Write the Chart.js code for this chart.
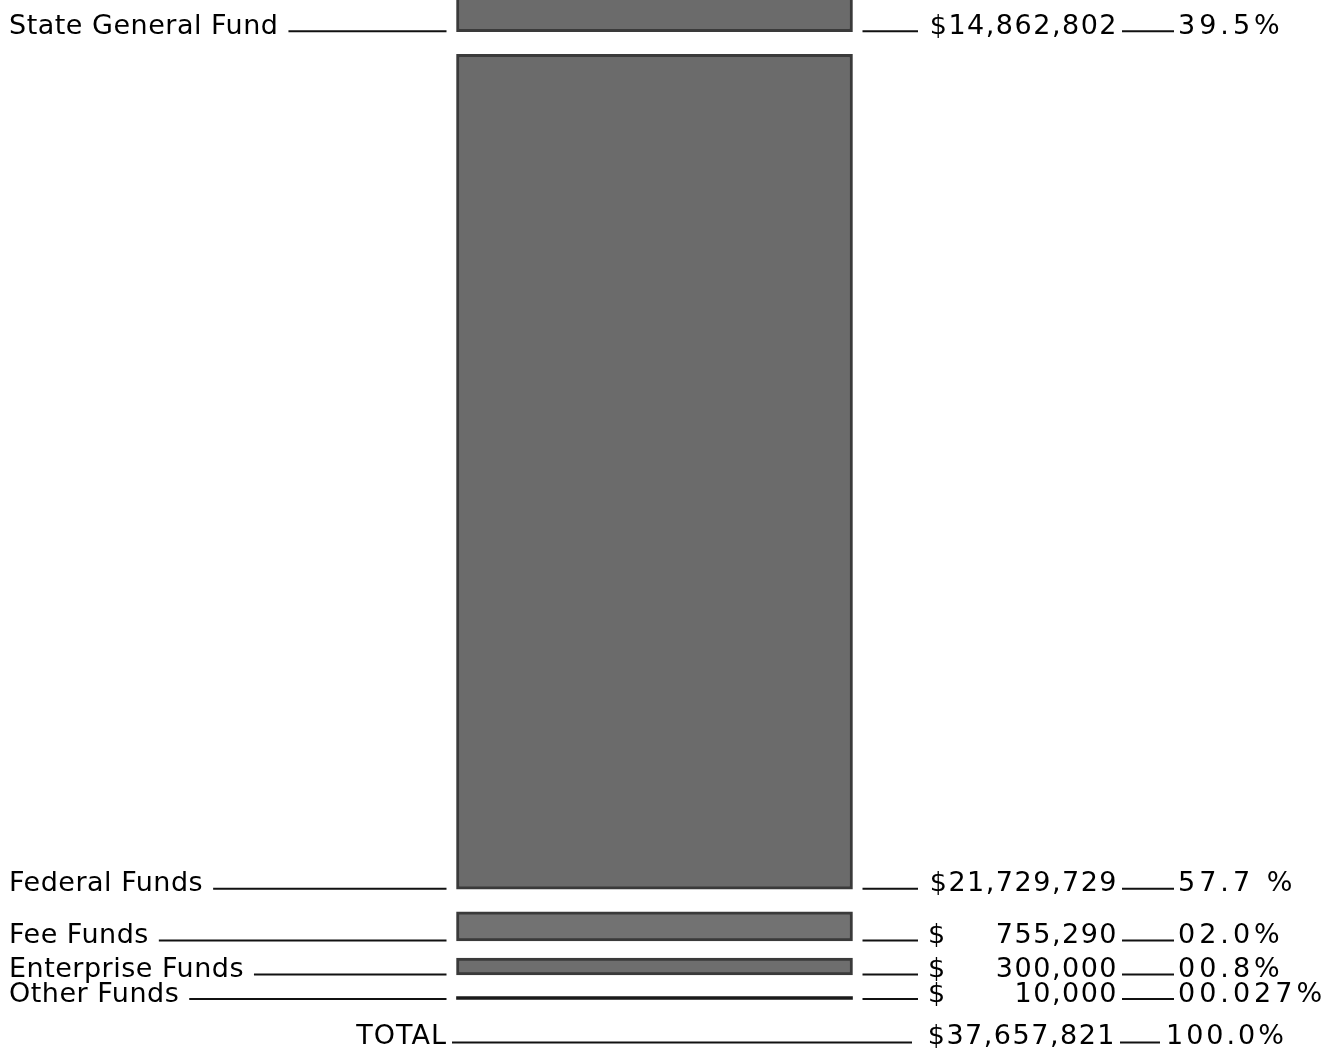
<!DOCTYPE html>
<html>
<head>
<meta charset="utf-8">
<script src="https://cdn.jsdelivr.net/npm/chart.js@4.4.0/dist/chart.umd.min.js"></script>
<style>
  html, body { margin: 0; padding: 0; background: #fff; }
  #wrap { width: 1341px; height: 1050px; }
</style>
</head>
<body>
<div id="wrap"><canvas id="chartFontes"></canvas></div>
<script>
// fund sources, top of the column first
const fundNames = ['State General Fund', 'Federal Funds', 'Fee Funds', 'Enterprise Funds', 'Other Funds']
const fundAmounts = [14862802, 21729729, 755290, 300000, 10000]
const fundPercents = ['39.5%', '57.7 %', '02.0%', '00.8%', '00.027%']
const totalLabel = 'TOTAL'
const totalPercent = '100.0%'

const gap = 588000 // white space between the pieces, in dollars
const fundTotal = fundAmounts.reduce((a, b) => a + b, 0)

// floating ranges, stacked from the bottom up
const ranges = []
let cursor = 0
for (let i = fundAmounts.length - 1; i >= 0; i--) {
    ranges[i] = [cursor, cursor + fundAmounts[i]]
    cursor += fundAmounts[i] + gap
}

const fills = ['#6b6b6b', '#6b6b6b', '#727272', '#6e6e6e', '#1a1a1a']
const edges = ['#3a3a3a', '#3a3a3a', '#3a3a3a', '#3a3a3a', '#1a1a1a']
const minLen = [0, 0, 0, 17, 3]

const money = v => v.toLocaleString('en-US')

function hline(ctx, x1, x2, y) {
    ctx.beginPath()
    ctx.moveTo(x1, y)
    ctx.lineTo(x2, y)
    ctx.stroke()
}

const fundLabels = {
    id: 'fundLabels',
    afterDatasetsDraw(chart) {
        const ctx = chart.ctx
        ctx.save()
        ctx.fillStyle = '#000'
        ctx.strokeStyle = '#111'
        ctx.lineWidth = 2
        ctx.font = '27px "DejaVu Sans"'
        ctx.textBaseline = 'alphabetic'
        let lastBottom = 0
        fundNames.forEach((name, i) => {
            const bar = chart.getDatasetMeta(i).data[0]
            const left = bar.x - bar.width / 2
            const right = bar.x + bar.width / 2
            const bottom = Math.max(bar.y, bar.base)
            lastBottom = bottom
            const lineY = bottom - 0.5
            const textY = bottom + 2

            // left label + leader
            ctx.letterSpacing = '0.5px'
            ctx.textAlign = 'left'
            ctx.fillText(name, 9, textY)
            const nameEnd = 9 + ctx.measureText(name).width
            hline(ctx, nameEnd + 10, left - 10, lineY)

            // right side
            hline(ctx, right + 10, 918, lineY)
            ctx.letterSpacing = '1.5px'
            if (fundAmounts[i] >= 1000000) {
                ctx.textAlign = 'right'
                ctx.fillText('$' + money(fundAmounts[i]), 1118, textY)
            } else {
                ctx.textAlign = 'left'
                ctx.fillText('$', 928, textY)
                ctx.textAlign = 'right'
                ctx.fillText(money(fundAmounts[i]), 1118, textY)
            }
            hline(ctx, 1122, 1174, lineY)
            ctx.letterSpacing = '4px'
            ctx.textAlign = 'left'
            ctx.fillText(fundPercents[i], 1178, textY)
        })

        // total row
        const totalY = lastBottom + 44
        ctx.letterSpacing = '1px'
        ctx.textAlign = 'right'
        ctx.fillText(totalLabel, 447, totalY)
        hline(ctx, 452, 912, totalY - 1)
        ctx.letterSpacing = '1.5px'
        ctx.fillText('$' + money(fundTotal), 1116, totalY)
        hline(ctx, 1120, 1160, totalY - 1)
        ctx.letterSpacing = '3px'
        ctx.textAlign = 'left'
        ctx.fillText(totalPercent, 1166, totalY)
        ctx.restore()
    }
}

new Chart(document.getElementById('chartFontes'), {
    type: 'bar',
    data: {
        labels: ['Funds'],
        datasets: fundNames.map((name, i) => ({
            label: name,
            data: [ranges[i]],
            backgroundColor: fills[i],
            borderColor: edges[i],
            borderWidth: i < 4 ? 3 : 0,
            borderSkipped: false,
            minBarLength: minLen[i],
            barThickness: 396,
            grouped: false
        }))
    },
    options: {
        maintainAspectRatio: false,
        animation: false,
        layout: { padding: { left: 0, right: 32, top: 0, bottom: 0 } },
        plugins: {
            legend: { display: false },
            tooltip: { enabled: false }
        },
        scales: {
            x: { display: false },
            y: { display: false, min: -1353000, max: 25972000 }
        }
    },
    plugins: [fundLabels]
})
</script>
</body>
</html>
